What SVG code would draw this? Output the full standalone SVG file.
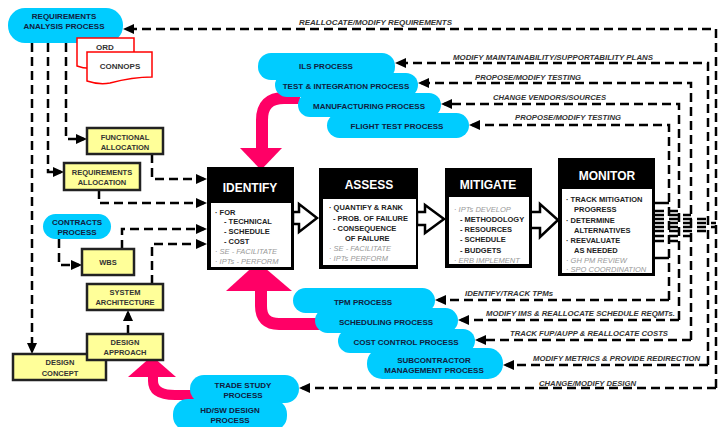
<svg xmlns="http://www.w3.org/2000/svg" width="719" height="427" viewBox="0 0 719 427">
<defs>
<style>
.cloud{fill:#00CCFF}
.ct{font-family:"Liberation Sans",Arial,sans-serif;font-weight:bold;font-size:8px;fill:#102040;text-anchor:middle}
.yb{fill:#FFFF99;stroke:#222;stroke-width:2.5}
.yt{font-family:"Liberation Sans",Arial,sans-serif;font-weight:bold;font-size:7.5px;fill:#333;text-anchor:middle}
.lbl{font-family:"Liberation Sans",Arial,sans-serif;font-weight:bold;font-style:italic;font-size:7.5px;fill:#333}
.dash{fill:none;stroke:#000;stroke-width:2.5;stroke-dasharray:9 5}
.arr{marker-end:url(#ah)}
.pink{fill:none;stroke:#FF0066;stroke-width:12}
.pinkh{fill:#FF0066}
.doc{fill:#fff;stroke:#FF0000;stroke-width:1.5}
.dt{font-family:"Liberation Sans",Arial,sans-serif;font-weight:bold;font-size:8px;fill:#333;text-anchor:middle}
.bk{fill:#000}
.wh{fill:#fff}
.bt{font-family:"Liberation Sans",Arial,sans-serif;font-weight:bold;font-size:12px;fill:#fff;text-anchor:middle}
.bx{font-family:"Liberation Sans",Arial,sans-serif;font-weight:bold;font-size:7.5px;fill:#222}
.gx{font-family:"Liberation Sans",Arial,sans-serif;font-style:italic;font-size:7.5px;fill:#999}
.blk{fill:#fff;stroke:#000;stroke-width:2.5;stroke-linejoin:miter}
</style>
<marker id="ah" markerUnits="userSpaceOnUse" markerWidth="11" markerHeight="10" refX="8" refY="5" orient="auto">
<path d="M0,0 L11,5 L0,10 Z" fill="#000"/>
</marker>
</defs>
<rect width="719" height="427" fill="#fff"/>

<g id="connectors">
<!-- pink arrows -->
<path class="pink" d="M300,98 H284 Q262,98 262,120 V150"/>
<polygon class="pinkh" points="240,148 282,148 261,170"/>
<path class="pink" d="M261,289 V306 Q261,324 279,324 H320"/>
<polygon class="pinkh" points="226,291 292,291 258,262"/>
<path class="pink" style="stroke-width:10" d="M153,376 V381 Q153,395 175,395 H196"/>
<polygon class="pinkh" points="128,377 176,377 152,356"/>
<!-- right feedback loops -->
<path class="dash arr" d="M716,388 V29 H126"/>
<path class="dash arr" d="M716,388 H302"/>
<path class="dash arr" d="M708,365 V63 H398"/>
<path class="dash arr" d="M708,365 H506"/>
<path class="dash arr" d="M691,340 V83 H421"/>
<path class="dash arr" d="M691,340 H478"/>
<path class="dash arr" d="M679,320 V104 H444"/>
<path class="dash arr" d="M679,320 H461"/>
<path class="dash arr" d="M669,300 V125 H472"/>
<path class="dash arr" d="M669,300 H438"/>
<!-- monitor stubs -->
<path d="M655,203 H669" stroke="#000" stroke-width="2.5" fill="none"/>
<path class="dash" d="M655,211 H679"/>
<path class="dash" d="M655,215 H691"/>
<path class="dash" d="M655,219 H708"/>
<path class="dash" d="M655,223 H716"/>
<path class="dash" d="M655,227 H716"/>
<path class="dash" d="M655,231 H708"/>
<path class="dash" d="M655,236 H691"/>
<path class="dash" d="M655,241 H679"/>
<path d="M655,258 H669" stroke="#000" stroke-width="2.5" fill="none"/>
<!-- left side -->
<path class="dash arr" d="M66,43 V139 H84"/>
<path class="dash arr" d="M48,43 V172 H61"/>
<path class="dash arr" d="M32,43 V351"/>
<path class="dash arr" d="M152,154 V179 H204"/>
<path class="dash arr" d="M99,190 V203 H204"/>
<path class="dash arr" d="M122,249 V229 H204"/>
<path class="dash arr" d="M152,284 V244 H204"/>
<path class="dash arr" d="M59,239 V265 H79"/>
<path class="dash arr" d="M128,334 V313"/>
<!-- block arrows -->
<polygon class="blk" points="293,212 299,212 299,204 317,218 299,232 299,224 293,224"/>
<polygon class="blk" points="417,212 425,212 425,205 444,219 425,233 425,225 417,225"/>
<polygon class="blk" points="530,212 540,212 540,204 558,220 540,237 540,228 530,228"/>
<!-- labels -->
<text class="lbl" x="299" y="25" textLength="153" lengthAdjust="spacingAndGlyphs">REALLOCATE/MODIFY  REQUIREMENTS</text>
<text class="lbl" x="453" y="60" textLength="200" lengthAdjust="spacingAndGlyphs">MODIFY MAINTAINABILITY/SUPPORTABILITY PLANS</text>
<text class="lbl" x="475" y="80" textLength="106" lengthAdjust="spacingAndGlyphs">PROPOSE/MODIFY TESTING</text>
<text class="lbl" x="493" y="100" textLength="113" lengthAdjust="spacingAndGlyphs">CHANGE VENDORS/SOURCES</text>
<text class="lbl" x="515" y="120" textLength="106" lengthAdjust="spacingAndGlyphs">PROPOSE/MODIFY TESTING</text>
<text class="lbl" x="465" y="296" textLength="88" lengthAdjust="spacingAndGlyphs">IDENTIFY/TRACK TPMs</text>
<text class="lbl" x="486" y="316" textLength="189" lengthAdjust="spacingAndGlyphs">MODIFY IMS &amp; REALLOCATE SCHEDULE REQMTs.</text>
<text class="lbl" x="510" y="336" textLength="158" lengthAdjust="spacingAndGlyphs">TRACK FUP/AUPP &amp; REALLOCATE COSTS</text>
<text class="lbl" x="533" y="361" textLength="167" lengthAdjust="spacingAndGlyphs">MODIFY METRICS &amp; PROVIDE REDIRECTION</text>
<text class="lbl" x="539" y="386" textLength="97" lengthAdjust="spacingAndGlyphs">CHANGE/MODIFY DESIGN</text>
</g>

<g id="req-analysis">
<rect class="cloud" x="8" y="8" width="115" height="35" rx="17"/>
<text class="ct" x="64" y="19">REQUIREMENTS</text>
<text class="ct" x="64" y="29">ANALYSIS PROCESS</text>
</g>
<g id="ord">
<path class="doc" d="M77,38 H134 V62 C120,62 105,66 95,68 C87,69 82,68 77,66 Z"/>
<text class="dt" x="105" y="50">ORD</text>
</g>
<g id="connops">
<path class="doc" d="M87,52 H152 V77 C140,77 125,79 110,83 C100,85 93,83 87,81 Z"/>
<text class="dt" x="120" y="69">CONNOPS</text>
</g>

<g id="functional-allocation">
<rect class="yb" x="87" y="128" width="76" height="26"/>
<text class="yt" x="125" y="140">FUNCTIONAL</text>
<text class="yt" x="125" y="150">ALLOCATION</text>
</g>
<g id="requirements-allocation">
<rect class="yb" x="64" y="163" width="76" height="27"/>
<text class="yt" x="102" y="175">REQUIREMENTS</text>
<text class="yt" x="102" y="185">ALLOCATION</text>
</g>
<g id="contracts">
<rect class="cloud" x="43" y="214" width="68" height="25" rx="12.5"/>
<text class="ct" x="77" y="225">CONTRACTS</text>
<text class="ct" x="77" y="235">PROCESS</text>
</g>
<g id="wbs">
<rect class="yb" x="82" y="249" width="52" height="26"/>
<text class="yt" x="108" y="265">WBS</text>
</g>
<g id="system-architecture">
<rect class="yb" x="87" y="284" width="76" height="26"/>
<text class="yt" x="125" y="295">SYSTEM</text>
<text class="yt" x="125" y="305">ARCHITECTURE</text>
</g>
<g id="design-concept">
<rect class="yb" x="13" y="354" width="93" height="26"/>
<text class="yt" x="60" y="365">DESIGN</text>
<text class="yt" x="60" y="376">CONCEPT</text>
</g>
<g id="design-approach">
<rect class="yb" x="87" y="334" width="76" height="26"/>
<text class="yt" x="125" y="345">DESIGN</text>
<text class="yt" x="125" y="355">APPROACH</text>
</g>

<g id="ils">
<rect class="cloud" x="258" y="53" width="137" height="27" rx="13"/>
<text class="ct" x="326" y="69">ILS PROCESS</text>
</g>
<g id="test-integration">
<rect class="cloud" x="275" y="73" width="143" height="24" rx="12"/>
<text class="ct" x="346" y="89">TEST &amp;  INTEGRATION PROCESS</text>
</g>
<g id="manufacturing">
<rect class="cloud" x="298" y="93" width="143" height="24" rx="12"/>
<text class="ct" x="369" y="109">MANUFACTURING PROCESS</text>
</g>
<g id="flight-test">
<rect class="cloud" x="327" y="113" width="142" height="25" rx="12.5"/>
<text class="ct" x="397" y="129">FLIGHT TEST PROCESS</text>
</g>

<g id="tpm">
<rect class="cloud" x="293" y="288" width="142" height="25" rx="12.5"/>
<text class="ct" x="363" y="305">TPM   PROCESS</text>
</g>
<g id="scheduling">
<rect class="cloud" x="315" y="308" width="143" height="25" rx="12.5"/>
<text class="ct" x="386" y="325">SCHEDULING PROCESS</text>
</g>
<g id="cost-control">
<rect class="cloud" x="338" y="329" width="137" height="24" rx="12"/>
<text class="ct" x="406" y="345">COST CONTROL PROCESS</text>
</g>
<g id="subcontractor">
<rect class="cloud" x="367" y="348" width="136" height="31" rx="15"/>
<text class="ct" x="434" y="363">SUBCONTRACTOR</text>
<text class="ct" x="434" y="373">MANAGEMENT PROCESS</text>
</g>

<g id="trade-study">
<rect class="cloud" x="190" y="375" width="109" height="28" rx="14"/>
<text class="ct" x="243" y="388">TRADE STUDY</text>
<text class="ct" x="243" y="398">PROCESS</text>
</g>
<g id="hdsw-design">
<rect class="cloud" x="173" y="399" width="114" height="32" rx="15"/>
<text class="ct" x="230" y="413">HD/SW DESIGN</text>
<text class="ct" x="230" y="423">PROCESS</text>
</g>

<g id="identify">
<rect class="bk" x="207" y="167" width="87" height="103"/>
<rect class="wh" x="211" y="203" width="80" height="64"/>
<text class="bt" x="250" y="192">IDENTIFY</text>
<text class="bx" x="215" y="215">· FOR</text>
<text class="bx" x="224" y="224">- TECHNICAL</text>
<text class="bx" x="224" y="234">- SCHEDULE</text>
<text class="bx" x="224" y="244">-  COST</text>
<text class="gx" x="215" y="254">· SE - FACILITATE</text>
<text class="gx" x="215" y="264">· IPTs - PERFORM</text>
</g>
<g id="assess">
<rect class="bk" x="319" y="168" width="99" height="101"/>
<rect class="wh" x="323" y="199" width="93" height="66"/>
<text class="bt" x="369" y="189">ASSESS</text>
<text class="bx" x="329" y="210">· QUANTIFY &amp; RANK</text>
<text class="bx" x="333" y="221">-  PROB. OF FAILURE</text>
<text class="bx" x="333" y="231">-  CONSEQUENCE</text>
<text class="bx" x="345" y="241">OF FAILURE</text>
<text class="gx" x="329" y="251">· SE - FACILITATE</text>
<text class="gx" x="329" y="261">· IPTs PERFORM</text>
</g>
<g id="mitigate">
<rect class="bk" x="445" y="168" width="87" height="100"/>
<rect class="wh" x="449" y="197" width="80" height="67"/>
<text class="bt" x="488" y="189">MITIGATE</text>
<text class="gx" x="454" y="212">· IPTs DEVELOP</text>
<text class="bx" x="460" y="222">-  METHODOLOGY</text>
<text class="bx" x="460" y="232">-  RESOURCES</text>
<text class="bx" x="460" y="242">-  SCHEDULE</text>
<text class="bx" x="460" y="253">-  BUDGETS</text>
<text class="gx" x="454" y="263">· ERB IMPLEMENT</text>
</g>
<g id="monitor">
<rect class="bk" x="558" y="158" width="97" height="118"/>
<rect class="wh" x="562" y="189" width="90" height="84"/>
<text class="bt" x="607" y="180">MONITOR</text>
<text class="bx" x="566" y="202">· TRACK MITIGATION</text>
<text class="bx" x="574" y="212">PROGRESS</text>
<text class="bx" x="566" y="223">· DETERMINE</text>
<text class="bx" x="574" y="233">ALTERNATIVES</text>
<text class="bx" x="566" y="243">· REEVALUATE</text>
<text class="bx" x="574" y="253">AS NEEDED</text>
<text class="gx" x="566" y="263">· GH PM  REVIEW</text>
<text class="gx" x="566" y="272">· SPO COORDINATION</text>
</g>
</svg>
